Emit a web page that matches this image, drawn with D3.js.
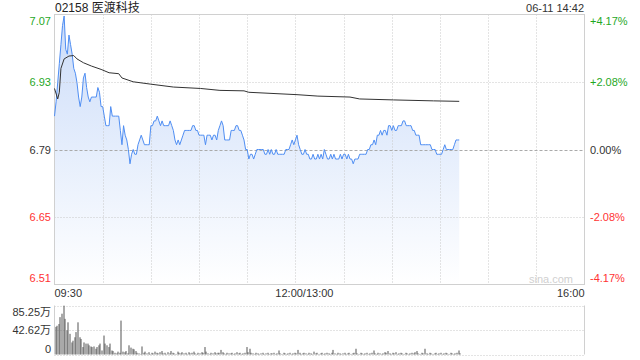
<!DOCTYPE html>
<html>
<head>
<meta charset="utf-8">
<script src="https://cdn.jsdelivr.net/npm/d3@7"></script>
<style>
  html, body { margin: 0; padding: 0; background: #fff; }
  svg { display: block; font-family: "Liberation Sans", Arial, "Noto Sans CJK SC", sans-serif; }
</style>
</head>
<body>
<div id="chart"></div>
<script>
// stock info
const title = '02158 医渡科技';
const stamp = '06-11 14:42';
const prevClose = 6.79;
const maxPct = 0.0417;

// x axis labels (minutes since open, lunch break removed)
const timeLabels = ['09:30', '12:00/13:00', '16:00'];
const timeMinutes = [0, 150, 330];
const totalMinutes = 330;

// price per minute from 09:30 to 14:42
const prices = [
  6.86,6.89,6.93,6.97,7.01,7.05,7.07,7.00,6.99,7.03,
  7.01,6.99,6.96,6.95,6.93,6.90,6.88,6.90,6.94,6.95,
  6.92,6.90,6.89,6.90,6.90,6.90,6.90,6.92,6.91,6.88,
  6.88,6.86,6.84,6.84,6.84,6.88,6.86,6.86,6.86,6.86,
  6.86,6.83,6.80,6.84,6.82,6.81,6.79,6.76,6.78,6.79,
  6.78,6.78,6.80,6.81,6.82,6.81,6.80,6.80,6.80,6.80,
  6.84,6.84,6.85,6.85,6.86,6.85,6.84,6.85,6.84,6.84,
  6.84,6.84,6.85,6.84,6.83,6.81,6.80,6.81,6.80,6.81,
  6.82,6.83,6.83,6.83,6.83,6.83,6.84,6.84,6.83,6.83,
  6.82,6.82,6.82,6.82,6.80,6.82,6.82,6.82,6.81,6.82,
  6.82,6.81,6.83,6.84,6.85,6.84,6.81,6.81,6.81,6.81,
  6.83,6.83,6.83,6.84,6.84,6.83,6.83,6.82,6.81,6.79,
  6.79,6.77,6.78,6.78,6.77,6.78,6.79,6.79,6.79,6.79,
  6.79,6.78,6.78,6.79,6.78,6.79,6.78,6.78,6.79,6.78,
  6.78,6.78,6.78,6.78,6.79,6.79,6.79,6.80,6.81,6.80,
  6.81,6.82,6.80,6.79,6.78,6.78,6.79,6.78,6.78,6.77,
  6.77,6.78,6.77,6.77,6.78,6.77,6.78,6.77,6.79,6.78,
  6.77,6.77,6.78,6.77,6.78,6.77,6.77,6.77,6.78,6.77,
  6.78,6.78,6.77,6.78,6.77,6.77,6.76,6.77,6.77,6.77,
  6.78,6.78,6.78,6.78,6.78,6.79,6.79,6.80,6.80,6.81,
  6.80,6.82,6.82,6.83,6.82,6.83,6.83,6.82,6.84,6.84,
  6.83,6.84,6.83,6.83,6.84,6.84,6.84,6.85,6.85,6.84,
  6.84,6.84,6.84,6.83,6.83,6.82,6.82,6.82,6.80,6.80,
  6.80,6.80,6.80,6.80,6.80,6.79,6.79,6.79,6.78,6.78,
  6.78,6.78,6.79,6.80,6.79,6.79,6.79,6.79,6.79,6.80,
  6.81,6.81,6.81
];

// average price line, read at its turning points [minute, price]
const avgPoints = [
  [0, 6.918], [2, 6.896], [3, 6.91], [4, 6.96], [6, 6.98], [9, 6.986],
  [12, 6.987], [14, 6.98], [18, 6.972], [23, 6.965], [29, 6.958],
  [34, 6.951], [40, 6.949], [42, 6.94], [49, 6.932], [60, 6.927],
  [74, 6.921], [91, 6.918], [103, 6.914], [118, 6.913], [121, 6.91],
  [151, 6.905], [164, 6.902], [184, 6.90], [190, 6.896], [211, 6.894],
  [236, 6.892], [252, 6.891]
];

// volume per minute, in 万
const volumes = [
  48,50,53,65,71,85,62,42,56,36,
  21,24,30,39,56,30,27,13,21,19,
  19,16,14,13,14,10,13,16,19,7,
  33,19,16,13,19,7,6,3,2,5,
  3,59,5,4,6,2,16,12,10,9,
  6,3,2,1,14,3,5,2,4,1,
  3,2,5,3,2,4,6,2,3,1,
  4,2,6,3,2,1,5,3,2,4,
  2,3,1,4,2,3,5,2,1,3,
  2,4,3,13,5,2,1,3,2,4,
  2,3,3,8,4,2,1,3,2,2,
  3,1,2,4,2,3,1,2,3,13,
  4,10,3,2,1,3,2,1,2,3,
  1,2,3,1,2,2,3,1,2,7,
  2,1,3,2,1,2,3,1,2,3,
  2,8,3,1,2,3,2,1,3,2,
  1,5,2,3,1,2,3,1,2,3,
  2,1,3,8,2,1,3,2,1,2,
  3,1,2,3,1,2,3,10,2,1,
  3,2,1,2,3,1,2,3,7,2,
  1,3,2,1,2,4,3,6,2,1,
  3,2,4,1,2,3,2,1,3,2,
  1,2,3,2,4,6,2,1,3,2,
  10,2,1,3,2,1,2,3,1,2,
  3,1,2,3,2,1,3,2,1,2,
  3,7,2
];
const volMax = 85.25;
const volLabels = ['85.25万', '42.62万', '0'];

const width = 640, height = 360;
const plotLeft = 54.5, plotRight = 584.5;
const plotTop = 14.5, plotBottom = 284.5;
const volTop = 305.5, volBottom = 354.5;

const svg = d3.select('#chart').append('svg')
  .attr('width', width)
  .attr('height', height);

const x = d3.scaleLinear().domain([0, totalMinutes]).range([plotLeft, plotRight]);
const y = d3.scaleLinear()
  .domain([prevClose * (1 - maxPct), prevClose * (1 + maxPct)])
  .range([plotBottom, plotTop]);
const yv = d3.scaleLinear().domain([0, volMax]).range([volBottom, volTop]);

const pctLevels = [maxPct, maxPct / 2, 0, -maxPct / 2, -maxPct];
const gridPrices = pctLevels.map(p => prevClose * (1 + p));

const defs = svg.append('defs');
const grad = defs.append('linearGradient')
  .attr('id', 'area-fill')
  .attr('gradientUnits', 'userSpaceOnUse')
  .attr('x1', 0).attr('x2', 0)
  .attr('y1', plotTop).attr('y2', plotBottom);
grad.append('stop').attr('offset', 0).attr('stop-color', '#cbdcf9');
grad.append('stop').attr('offset', 1).attr('stop-color', '#ffffff');

// area under price
svg.append('path')
  .datum(prices)
  .attr('fill', 'url(#area-fill)')
  .attr('d', d3.area()
    .x((d, i) => x(i))
    .y0(plotBottom)
    .y1(d => y(d)));

// grid
const grid = svg.append('g');
d3.range(1, 11).forEach(i => {
  const gx = Math.round(x(i * 30)) + 0.5;
  grid.append('line')
    .attr('x1', gx).attr('x2', gx)
    .attr('y1', plotTop).attr('y2', plotBottom)
    .attr('stroke', '#c8c8c8')
    .attr('stroke-dasharray', '1,2');
});
gridPrices.slice(1, 4).forEach((p, i) => {
  const gy = Math.round(y(p)) + 0.5;
  grid.append('line')
    .attr('x1', plotLeft).attr('x2', plotRight)
    .attr('y1', gy).attr('y2', gy)
    .attr('stroke', i === 1 ? '#aaa' : '#c8c8c8')
    .attr('stroke-dasharray', i === 1 ? '3,2' : '1,2');
});

// frame
svg.append('rect')
  .attr('x', plotLeft).attr('y', plotTop)
  .attr('width', plotRight - plotLeft).attr('height', plotBottom - plotTop)
  .attr('fill', 'none')
  .attr('stroke', '#d0d0d0');

// watermark
svg.append('text')
  .attr('x', 573).attr('y', 283)
  .attr('text-anchor', 'end')
  .style('font-size', '11px')
  .style('fill', '#d0d0d0')
  .text('sina.com');

// price line
svg.append('path')
  .datum(prices)
  .attr('fill', 'none')
  .attr('stroke', '#4f8ef3')
  .attr('stroke-width', 1)
  .attr('d', d3.line().x((d, i) => x(i)).y(d => y(d)));

// average line
svg.append('path')
  .datum(avgPoints)
  .attr('fill', 'none')
  .attr('stroke', '#333')
  .attr('stroke-width', 1)
  .attr('d', d3.line().x(d => x(d[0])).y(d => y(d[1])));

// left / right labels
const colorFor = p => p > 0 ? '#1fa81f' : (p < 0 ? '#f33' : '#333');
const labelDy = i => i === 0 ? 9.5 : (i === 4 ? -3.5 : 4);
pctLevels.forEach((p, i) => {
  svg.append('text')
    .attr('x', 51).attr('y', Math.round(y(gridPrices[i])) + labelDy(i))
    .attr('text-anchor', 'end')
    .style('font-size', '11px')
    .style('fill', colorFor(p))
    .text(gridPrices[i].toFixed(2));
  svg.append('text')
    .attr('x', 590).attr('y', Math.round(y(gridPrices[i])) + labelDy(i))
    .style('font-size', '11px')
    .style('fill', colorFor(p))
    .text((p > 0 ? '+' : '') + (p * 100).toFixed(2) + '%');
});

// title and time stamp
svg.append('text')
  .attr('x', 55).attr('y', 12)
  .style('font-size', '12px')
  .style('fill', '#222')
  .text(title);
svg.append('text')
  .attr('x', 584).attr('y', 12)
  .attr('text-anchor', 'end')
  .style('font-size', '11px')
  .style('fill', '#333')
  .text(stamp);

// time labels
timeLabels.forEach((t, i) => {
  const anchor = i === 0 ? 'start' : (i === timeLabels.length - 1 ? 'end' : 'middle');
  svg.append('text')
    .attr('x', x(timeMinutes[i]) + (i === 1 ? 9 : 0))
    .attr('y', 297)
    .attr('text-anchor', anchor)
    .style('font-size', '11px')
    .style('fill', '#333')
    .text(t);
});

// volume panel
const vol = svg.append('g');
[volMax, volMax / 2, 0].forEach(v => {
  const gy = Math.round(yv(v)) + 0.5;
  vol.append('line')
    .attr('x1', plotLeft).attr('x2', plotRight)
    .attr('y1', gy).attr('y2', gy)
    .attr('stroke', '#c8c8c8')
    .attr('stroke-dasharray', '1,2');
});
[plotLeft, plotRight].forEach(vx => {
  vol.append('line')
    .attr('x1', vx).attr('x2', vx)
    .attr('y1', volTop).attr('y2', volBottom)
    .attr('stroke', '#d0d0d0');
});
vol.selectAll('rect.bar')
  .data(volumes)
  .join('rect')
  .attr('class', 'bar')
  .attr('x', (d, i) => Math.round(x(i)) + 0.5)
  .attr('y', d => yv(d))
  .attr('width', 1)
  .attr('height', d => volBottom - yv(d))
  .attr('fill', '#555');
volLabels.forEach((t, i) => {
  const v = [volMax, volMax / 2, 0][i];
  svg.append('text')
    .attr('x', 51).attr('y', Math.round(yv(v)) + (i === 0 ? 10 : (i === 2 ? -2 : 4)))
    .attr('text-anchor', 'end')
    .style('font-size', '11px')
    .style('fill', '#333')
    .text(t);
});
</script>
</body>
</html>
